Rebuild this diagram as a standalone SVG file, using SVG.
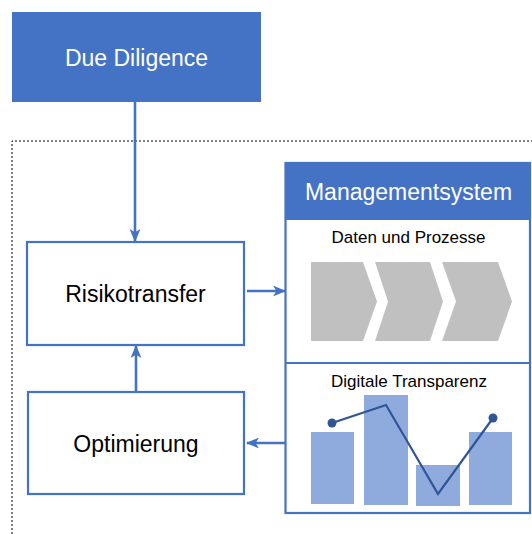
<svg xmlns="http://www.w3.org/2000/svg" width="532" height="534" viewBox="0 0 532 534">
<style>
text{font-family:"Liberation Sans",Arial,sans-serif;text-anchor:middle}
.big{font-size:23px}
.small{font-size:17px;fill:#000}
.white{fill:#fff}
.box{fill:#fff;stroke:#4472C4;stroke-width:2.2}
.conn{stroke:#4472C4;stroke-width:2.6;fill:none;marker-end:url(#arr)}
.chev{fill:#C0C0C0}
.bar{fill:#8FAADC}
</style>
<defs>
<marker id="arr" viewBox="0 0 12 10" refX="11" refY="5" markerWidth="5" markerHeight="4.2" orient="auto" markerUnits="strokeWidth">
<path d="M0,0 L12,5 L0,10 L3,5 Z" fill="#4472C4"/>
</marker>
</defs>
<rect width="532" height="534" fill="#fff"/>
<path d="M12,534 V141 H532" fill="none" stroke="#000" stroke-width="1" stroke-dasharray="2,2"/>
<g id="connectors">
<path class="conn" d="M135,102 V241"/>
<path class="conn" d="M136,392 V346"/>
<path class="conn" d="M247,291 H285"/>
<path class="conn" d="M286,443 H247"/>
</g>
<g id="due-diligence">
<rect x="12" y="12" width="249" height="90" fill="#4472C4"/>
<text class="big white" x="136.5" y="66">Due Diligence</text>
</g>
<g id="risikotransfer">
<rect class="box" x="27" y="242" width="217" height="103"/>
<text class="big" x="135.5" y="302">Risikotransfer</text>
</g>
<g id="optimierung">
<rect class="box" x="28" y="392" width="216" height="102"/>
<text class="big" x="136" y="452">Optimierung</text>
</g>
<g id="managementsystem">
<rect class="box" x="285.5" y="163" width="244.5" height="350"/>
<rect x="285" y="162" width="246" height="58" fill="#4472C4"/>
<text class="big white" x="408.5" y="200">Managementsystem</text>
<line x1="285.5" y1="363" x2="530" y2="363" stroke="#4472C4" stroke-width="2.2"/>
<g id="daten-und-prozesse">
<text class="small" x="408.5" y="243">Daten und Prozesse</text>
<polygon class="chev" points="311,262 363,262 377,301.5 363,341 311,341"/>
<polygon class="chev" points="375,262 430,262 443,301.5 430,341 375,341 388,301.5"/>
<polygon class="chev" points="442,262 498,262 512,301.5 498,341 442,341 456,301.5"/>
</g>
<g id="digitale-transparenz">
<text class="small" x="409" y="387">Digitale Transparenz</text>
<rect class="bar" x="311" y="432" width="43" height="72"/>
<rect class="bar" x="364" y="395" width="44" height="110"/>
<rect class="bar" x="416" y="465" width="44" height="41"/>
<rect class="bar" x="469" y="432" width="43" height="73"/>
<polyline points="332,423 386,405 438,494 493,418" fill="none" stroke="#2F5597" stroke-width="2.2"/>
<circle cx="332" cy="423" r="4.5" fill="#2F5597"/>
<circle cx="493" cy="418" r="4.5" fill="#2F5597"/>
</g>
</g>
</svg>
